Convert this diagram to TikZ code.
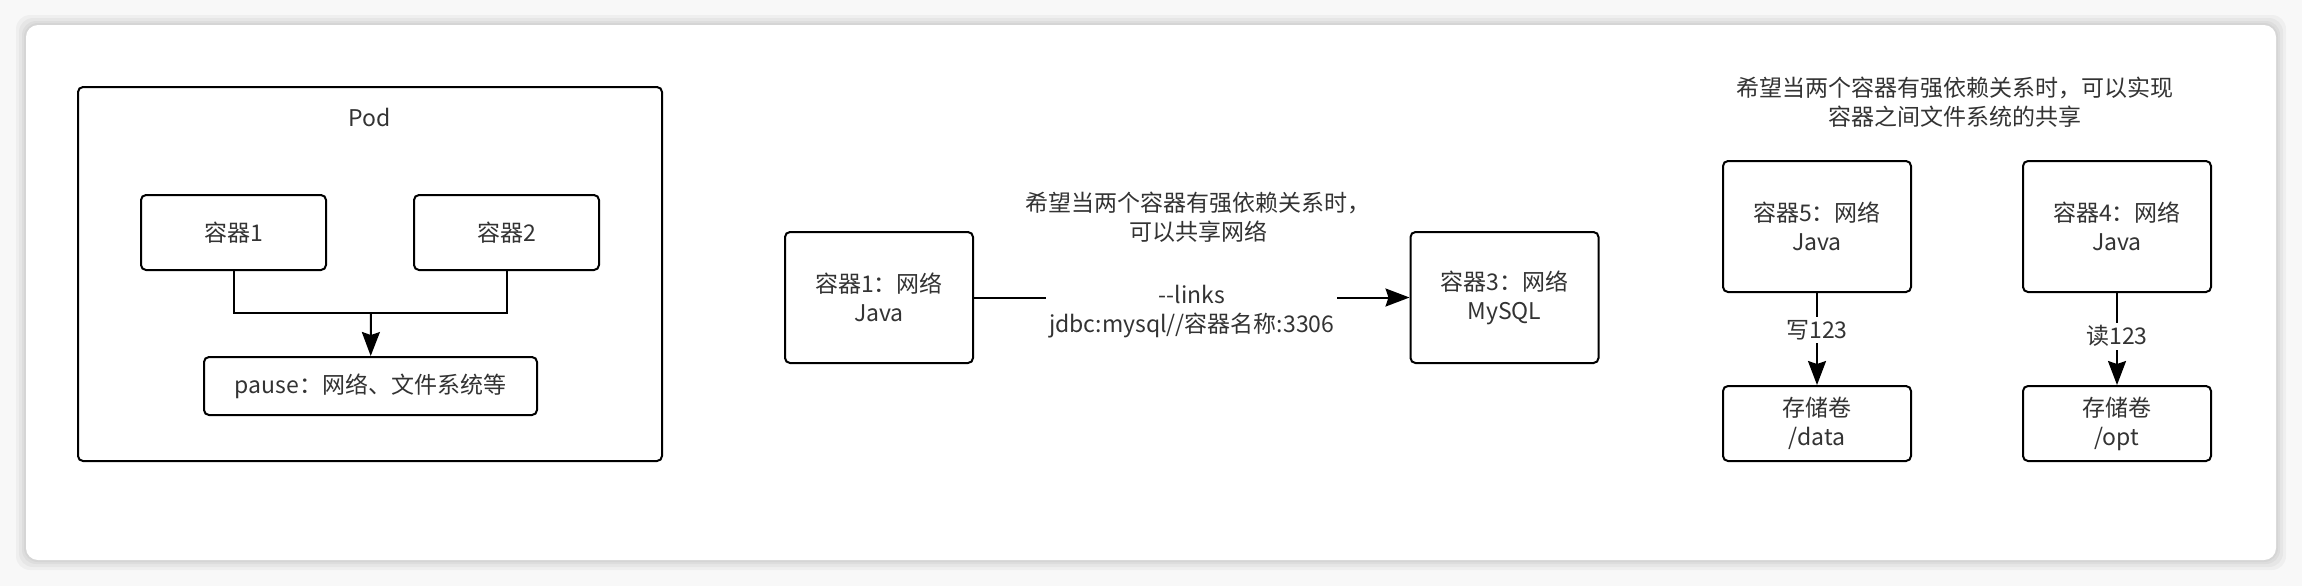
\documentclass[tikz,border=0pt]{standalone}
\usepackage{fontspec}
\setmainfont{Noto Sans CJK SC}
\usetikzlibrary{arrows.meta}
\definecolor{txtgray}{RGB}{51,51,51}
\definecolor{pagegray}{RGB}{248,248,248}
\begin{document}
\begin{tikzpicture}[x=0.5pt,y=-0.5pt,
    font=\fontsize{11.5pt}{14.5pt}\selectfont,
    box/.style={draw=black, line width=1pt, rounded corners=2.5pt, fill=white,
      align=center, text=txtgray, inner sep=0pt},
    smallbox/.style={box, minimum width=92.5pt, minimum height=37.5pt},
    bigbox/.style={box, minimum width=94pt, minimum height=65.5pt},
    note/.style={align=center, text=txtgray},
    tag/.style={note, fill=white, inner sep=1.5pt},
    link/.style={line width=1pt, -{Stealth[length=12pt,width=9pt,inset=1.5pt]}}]
  \useasboundingbox (0,0) rectangle (2302,586);
  \fill[pagegray] (0,0) rectangle (2302,586);
  \foreach \s in {10,7,4,2}
    \fill[black, opacity=0.035, rounded corners=7pt] (26-\s,25-\s) rectangle (2276+\s,560+\s);
  \fill[white, rounded corners=6pt] (26,25) rectangle (2276,560);

  \node[box, minimum width=292pt, minimum height=187pt] (pod) at (370,274) {};
  \node[note] (podname) at (370,117) {Pod};
  \node[smallbox] (c1) at (233.5,232.5) {容器1};
  \node[smallbox] (c2) at (506.5,232.5) {容器2};
  \node[box, minimum width=166.5pt, minimum height=29pt] (pause) at (370.5,386) {pause：网络、文件系统等};
  \coordinate (join) at (371,313);

  \node[note] (nettip) at (1198,217.5) {希望当两个容器有强依赖关系时，\\可以共享网络};
  \node[bigbox] (java1) at (879,297.5) {容器1：网络\\Java};
  \node[bigbox] (mysql) at (1504.5,297.5) {容器3：网络\\MySQL};

  \node[note] (fstip) at (1955,102.5) {希望当两个容器有强依赖关系时，可以实现\\容器之间文件系统的共享};
  \node[bigbox] (c5) at (1817,226.5) {容器5：网络\\Java};
  \node[bigbox] (c4) at (2117,226.5) {容器4：网络\\Java};
  \node[smallbox, minimum width=94pt] (vol1) at (1817,423.5) {存储卷\\/data};
  \node[smallbox, minimum width=94pt] (vol2) at (2117,423.5) {存储卷\\/opt};

  \begin{scope}[line width=1pt]
    \draw (c1.south) |- (join);
    \draw (c2.south) |- (join);
    \draw[link] (join) to (pause);
    \draw[link] (java1) to node[tag, yshift=-7pt] {{-}{-}links\\jdbc:mysql//容器名称:3306} (mysql);
    \draw[link] (c5) to node[tag, pos=0.4] {写123} (vol1);
    \draw[link] (c4) to node[tag, pos=0.47] {读123} (vol2);
  \end{scope}
\end{tikzpicture}
\end{document}
